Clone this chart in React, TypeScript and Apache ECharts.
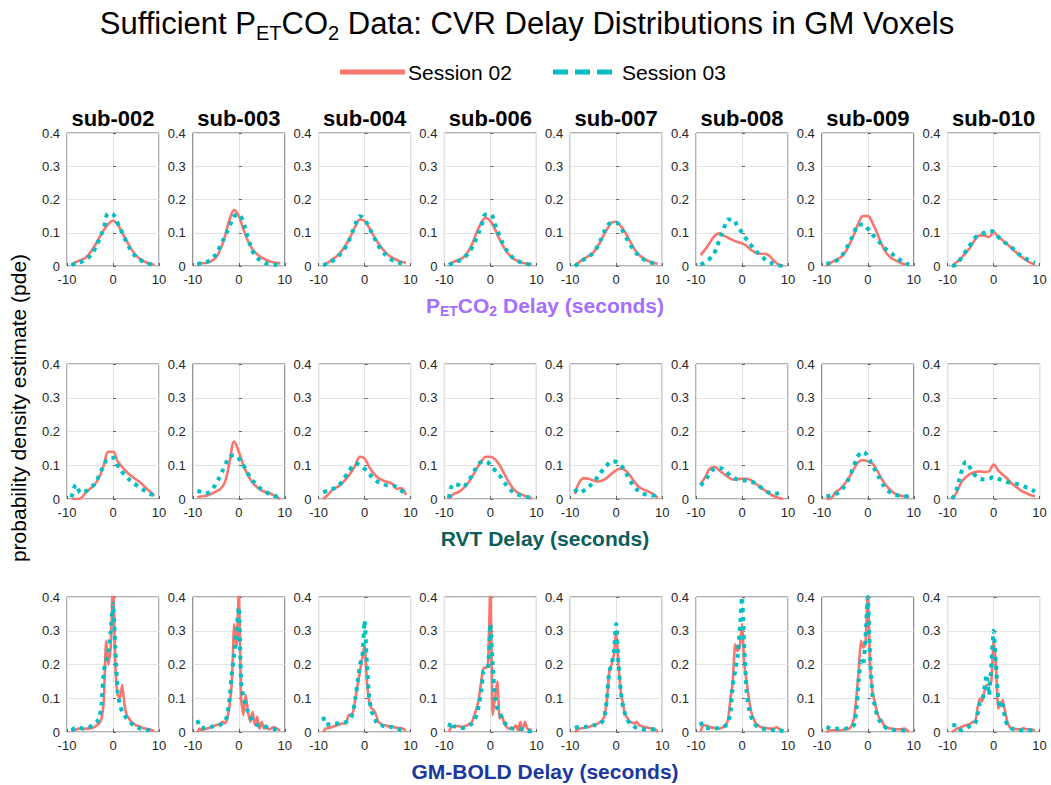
import React, { useEffect, useRef } from 'react';
import * as echarts from 'echarts';

const SUBJECTS = ['sub-002', 'sub-003', 'sub-004', 'sub-006', 'sub-007', 'sub-008', 'sub-009', 'sub-010'];

// delay grid (seconds) for PETCO2 and RVT rows
const X_SMOOTH = [-9, -8, -7, -6, -5, -4, -3, -2, -1, 0, 1, 2, 3, 4, 5, 6, 7, 8, 9];
// finer delay grid for GM-BOLD row
const X_BOLD = [-9, -8.5, -8, -7.5, -7, -6.5, -6, -5.5, -5, -4.5, -4, -3.5, -3, -2.5, -2, -1.5, -1, -0.5, 0,
  0.5, 1, 1.5, 2, 2.5, 3, 3.5, 4, 4.5, 5, 5.5, 6, 6.5, 7, 7.5, 8, 8.5, 9];

const X_MIN = -10, X_MAX = 10, X_STEP = 10;
const Y_MIN = 0, Y_MAX = 0.4, Y_STEP = 0.1;

// PETCO2 row
const petco2Session02 = [
  [0.003, 0.012, 0.018, 0.025, 0.04, 0.06, 0.085, 0.108, 0.127, 0.136, 0.125, 0.1, 0.075, 0.05, 0.032, 0.02, 0.012, 0.007, 0.004],
  [0.002, 0.008, 0.01, 0.015, 0.025, 0.05, 0.09, 0.14, 0.168, 0.15, 0.11, 0.075, 0.05, 0.035, 0.025, 0.018, 0.013, 0.01, 0.008],
  [0.003, 0.01, 0.02, 0.03, 0.045, 0.065, 0.09, 0.12, 0.14, 0.135, 0.115, 0.09, 0.068, 0.05, 0.035, 0.025, 0.018, 0.013, 0.01],
  [0.005, 0.012, 0.018, 0.025, 0.04, 0.065, 0.1, 0.13, 0.145, 0.135, 0.11, 0.08, 0.055, 0.035, 0.022, 0.015, 0.01, 0.007, 0.005],
  [0.0, 0.012, 0.022, 0.03, 0.04, 0.06, 0.085, 0.11, 0.13, 0.133, 0.12, 0.1, 0.075, 0.05, 0.033, 0.022, 0.015, 0.01, 0.007],
  [0.033, 0.05, 0.07, 0.09, 0.098, 0.092, 0.085, 0.078, 0.072, 0.068, 0.06, 0.048, 0.04, 0.037, 0.037, 0.03, 0.015, 0.004, 0.0],
  [0.0, 0.01, 0.018, 0.025, 0.04, 0.065, 0.095, 0.13, 0.15, 0.15, 0.13, 0.1, 0.065, 0.04, 0.025, 0.017, 0.01, 0.006, 0.004],
  [0.0, 0.012, 0.025, 0.04, 0.057, 0.08, 0.092, 0.092, 0.087, 0.102, 0.088, 0.077, 0.065, 0.052, 0.04, 0.028, 0.018, 0.01, 0.004],
];
const petco2Session03 = [
  [0.002, 0.01, 0.012, 0.018, 0.03, 0.05, 0.08, 0.115, 0.158, 0.155, 0.13, 0.1, 0.07, 0.045, 0.028, 0.018, 0.01, 0.006, 0.003],
  [0.005, 0.01, 0.012, 0.02, 0.035, 0.06, 0.09, 0.12, 0.15, 0.155, 0.13, 0.085, 0.045, 0.025, 0.015, 0.008, 0.006, 0.004, 0.003],
  [0.002, 0.008, 0.015, 0.025, 0.04, 0.06, 0.09, 0.125, 0.15, 0.14, 0.115, 0.088, 0.062, 0.042, 0.028, 0.018, 0.012, 0.008, 0.005],
  [0.003, 0.01, 0.015, 0.022, 0.035, 0.055, 0.085, 0.12, 0.155, 0.155, 0.125, 0.09, 0.06, 0.038, 0.024, 0.015, 0.009, 0.006, 0.004],
  [0.0, 0.01, 0.02, 0.028, 0.04, 0.06, 0.09, 0.12, 0.13, 0.13, 0.115, 0.09, 0.065, 0.045, 0.03, 0.02, 0.013, 0.009, 0.006],
  [0.004, 0.012, 0.022, 0.04, 0.075, 0.11, 0.14, 0.14, 0.12, 0.1, 0.08, 0.062, 0.045, 0.033, 0.02, 0.012, 0.006, 0.002, 0.0],
  [0.006, 0.01, 0.015, 0.025, 0.045, 0.07, 0.1, 0.125, 0.125, 0.112, 0.095, 0.08, 0.065, 0.05, 0.04, 0.028, 0.018, 0.01, 0.005],
  [0.0, 0.005, 0.025, 0.045, 0.065, 0.085, 0.095, 0.1, 0.105, 0.103, 0.088, 0.075, 0.065, 0.055, 0.042, 0.03, 0.022, 0.015, 0.01],
];

// RVT row
const rvtSession02 = [
  [0.0, 0.0, 0.002, 0.018, 0.03, 0.042, 0.065, 0.1, 0.14, 0.14, 0.112, 0.095, 0.08, 0.068, 0.058, 0.048, 0.035, 0.022, 0.01],
  [0.005, 0.008, 0.01, 0.015, 0.022, 0.03, 0.05, 0.11, 0.17, 0.14, 0.1, 0.07, 0.048, 0.035, 0.025, 0.02, 0.015, 0.008, 0.0],
  [0.0, 0.012, 0.027, 0.035, 0.045, 0.06, 0.078, 0.1, 0.125, 0.12, 0.095, 0.075, 0.062, 0.055, 0.05, 0.045, 0.03, 0.032, 0.012],
  [0.0, 0.015, 0.02, 0.03, 0.045, 0.065, 0.09, 0.11, 0.125, 0.125, 0.118, 0.1, 0.075, 0.05, 0.03, 0.018, 0.012, 0.006, 0.002],
  [0.015, 0.05, 0.062, 0.06, 0.055, 0.052, 0.055, 0.063, 0.075, 0.085, 0.09, 0.085, 0.07, 0.05, 0.035, 0.028, 0.022, 0.015, 0.003],
  [0.045, 0.065, 0.09, 0.095, 0.085, 0.075, 0.065, 0.058, 0.058, 0.06, 0.06, 0.055, 0.045, 0.035, 0.025, 0.015, 0.008, 0.003, 0.0],
  [0.0, 0.002, 0.02, 0.03, 0.045, 0.065, 0.09, 0.11, 0.115, 0.112, 0.105, 0.085, 0.06, 0.04, 0.025, 0.015, 0.01, 0.008, 0.007],
  [0.0, 0.02, 0.05, 0.065, 0.075, 0.08, 0.082, 0.08, 0.082, 0.102, 0.085, 0.072, 0.06, 0.045, 0.035, 0.025, 0.018, 0.012, 0.008],
];
const rvtSession03 = [
  [0.005, 0.042, 0.018, 0.022, 0.032, 0.045, 0.07, 0.1, 0.12, 0.122, 0.1, 0.08, 0.065, 0.052, 0.042, 0.032, 0.024, 0.016, 0.01],
  [0.025, 0.02, 0.018, 0.025, 0.045, 0.07, 0.1, 0.125, 0.13, 0.12, 0.1, 0.075, 0.055, 0.04, 0.028, 0.02, 0.012, 0.008, 0.015],
  [0.02, 0.025, 0.03, 0.035, 0.05, 0.07, 0.09, 0.105, 0.1, 0.09, 0.075, 0.06, 0.05, 0.045, 0.04, 0.04, 0.035, 0.025, 0.015],
  [0.003, 0.045, 0.042, 0.035, 0.05, 0.07, 0.095, 0.11, 0.112, 0.1, 0.085, 0.07, 0.05, 0.032, 0.02, 0.013, 0.01, 0.006, 0.004],
  [0.03, 0.018, 0.025, 0.035, 0.05, 0.065, 0.085, 0.1, 0.112, 0.11, 0.1, 0.08, 0.055, 0.035, 0.022, 0.015, 0.012, 0.01, 0.02],
  [0.04, 0.055, 0.075, 0.09, 0.092, 0.088, 0.075, 0.065, 0.058, 0.055, 0.055, 0.052, 0.045, 0.035, 0.025, 0.018, 0.015, 0.018, 0.022],
  [0.008, 0.01, 0.015, 0.022, 0.04, 0.065, 0.1, 0.13, 0.14, 0.125, 0.1, 0.075, 0.05, 0.03, 0.018, 0.012, 0.01, 0.008, 0.008],
  [0.0, 0.03, 0.08, 0.11, 0.09, 0.07, 0.06, 0.058, 0.06, 0.065, 0.06, 0.055, 0.05, 0.048, 0.045, 0.04, 0.035, 0.03, 0.022],
];

// GM-BOLD row
const boldSession02 = [
  [0.002, 0.006, 0.008, 0.01, 0.01, 0.009, 0.01, 0.01, 0.011, 0.012, 0.015, 0.02, 0.025, 0.04, 0.09, 0.27, 0.2, 0.25, 0.45, 0.2, 0.11, 0.1, 0.14, 0.08, 0.05, 0.04, 0.03, 0.025, 0.02, 0.018, 0.015, 0.012, 0.01, 0.009, 0.008, 0.005, 0.003],
  [0.0, 0.01, 0.005, 0.008, 0.01, 0.012, 0.015, 0.018, 0.02, 0.022, 0.025, 0.03, 0.025, 0.04, 0.08, 0.15, 0.32, 0.25, 0.42, 0.1, 0.05, 0.11, 0.06, 0.03, 0.06, 0.02, 0.045, 0.01, 0.03, 0.01, 0.015, 0.008, 0.01, 0.015, 0.012, 0.008, 0.005],
  [0.0, 0.01, 0.012, 0.013, 0.015, 0.018, 0.02, 0.022, 0.025, 0.025, 0.025, 0.05, 0.05, 0.06, 0.1, 0.14, 0.18, 0.22, 0.26, 0.15, 0.09, 0.07, 0.065, 0.05, 0.03, 0.025, 0.02, 0.02, 0.018, 0.016, 0.015, 0.014, 0.012, 0.012, 0.012, 0.008, 0.005],
  [0.0, 0.015, 0.015, 0.017, 0.018, 0.016, 0.015, 0.018, 0.02, 0.025, 0.03, 0.05, 0.07, 0.1, 0.15, 0.19, 0.19, 0.2, 0.45, 0.05, 0.1, 0.15, 0.04, 0.05, 0.025, 0.015, 0.01, 0.01, 0.01, 0.02, 0.005, 0.03, 0.005, 0.03, 0.01, 0.008, 0.005],
  [0.0, 0.005, 0.01, 0.011, 0.012, 0.014, 0.015, 0.018, 0.02, 0.022, 0.025, 0.03, 0.035, 0.05, 0.1, 0.18, 0.2, 0.23, 0.3, 0.2, 0.12, 0.08, 0.05, 0.04, 0.03, 0.028, 0.025, 0.03, 0.02, 0.018, 0.015, 0.014, 0.012, 0.011, 0.01, 0.008, 0.0],
  [0.0, 0.02, 0.02, 0.018, 0.015, 0.013, 0.012, 0.011, 0.01, 0.012, 0.015, 0.02, 0.04, 0.1, 0.15, 0.26, 0.24, 0.25, 0.32, 0.2, 0.15, 0.1, 0.06, 0.04, 0.025, 0.02, 0.015, 0.013, 0.012, 0.011, 0.01, 0.01, 0.01, 0.015, 0.01, 0.006, 0.003],
  [0.0, 0.003, 0.005, 0.005, 0.005, 0.005, 0.005, 0.006, 0.008, 0.009, 0.01, 0.02, 0.04, 0.1, 0.18, 0.27, 0.25, 0.26, 0.42, 0.2, 0.12, 0.09, 0.06, 0.04, 0.035, 0.02, 0.015, 0.012, 0.01, 0.009, 0.008, 0.008, 0.008, 0.009, 0.01, 0.005, 0.002],
  [0.0, 0.005, 0.01, 0.012, 0.015, 0.018, 0.02, 0.022, 0.025, 0.03, 0.03, 0.07, 0.1, 0.09, 0.12, 0.14, 0.14, 0.15, 0.27, 0.2, 0.07, 0.08, 0.095, 0.06, 0.03, 0.015, 0.01, 0.009, 0.008, 0.008, 0.008, 0.012, 0.008, 0.008, 0.008, 0.006, 0.005],
];
const boldSession03 = [
  [0.005, 0.01, 0.012, 0.013, 0.012, 0.01, 0.01, 0.012, 0.015, 0.02, 0.025, 0.03, 0.04, 0.08, 0.18, 0.21, 0.24, 0.3, 0.38, 0.25, 0.12, 0.08, 0.06, 0.05, 0.04, 0.032, 0.025, 0.02, 0.015, 0.012, 0.01, 0.009, 0.008, 0.006, 0.005, 0.004, 0.003],
  [0.035, 0.015, 0.012, 0.013, 0.015, 0.015, 0.015, 0.018, 0.02, 0.02, 0.022, 0.025, 0.03, 0.05, 0.1, 0.175, 0.23, 0.3, 0.37, 0.15, 0.1, 0.08, 0.06, 0.045, 0.035, 0.028, 0.02, 0.02, 0.02, 0.018, 0.015, 0.012, 0.01, 0.009, 0.008, 0.006, 0.005],
  [0.045, 0.022, 0.022, 0.024, 0.025, 0.025, 0.025, 0.025, 0.025, 0.028, 0.03, 0.035, 0.04, 0.06, 0.1, 0.15, 0.2, 0.22, 0.33, 0.2, 0.1, 0.06, 0.05, 0.03, 0.02, 0.02, 0.018, 0.016, 0.015, 0.015, 0.015, 0.012, 0.01, 0.008, 0.005, 0.004, 0.003],
  [0.015, 0.03, 0.018, 0.016, 0.015, 0.013, 0.012, 0.013, 0.015, 0.02, 0.025, 0.035, 0.05, 0.08, 0.12, 0.18, 0.185, 0.19, 0.32, 0.2, 0.1, 0.07, 0.06, 0.04, 0.03, 0.02, 0.012, 0.011, 0.01, 0.01, 0.01, 0.009, 0.008, 0.005, 0.003, 0.002, 0.002],
  [0.012, 0.014, 0.015, 0.015, 0.015, 0.016, 0.018, 0.019, 0.02, 0.02, 0.02, 0.025, 0.03, 0.05, 0.1, 0.18, 0.2, 0.24, 0.32, 0.2, 0.12, 0.075, 0.05, 0.035, 0.025, 0.02, 0.015, 0.012, 0.01, 0.009, 0.008, 0.008, 0.008, 0.008, 0.008, 0.009, 0.01],
  [0.03, 0.015, 0.012, 0.012, 0.012, 0.011, 0.01, 0.011, 0.012, 0.013, 0.015, 0.02, 0.025, 0.06, 0.14, 0.18, 0.22, 0.3, 0.4, 0.25, 0.12, 0.07, 0.045, 0.03, 0.02, 0.015, 0.012, 0.01, 0.008, 0.007, 0.006, 0.006, 0.005, 0.005, 0.005, 0.004, 0.003],
  [0.015, 0.012, 0.01, 0.01, 0.01, 0.01, 0.01, 0.01, 0.01, 0.011, 0.012, 0.015, 0.02, 0.06, 0.15, 0.21, 0.2, 0.28, 0.4, 0.22, 0.11, 0.08, 0.05, 0.035, 0.025, 0.018, 0.012, 0.01, 0.008, 0.007, 0.006, 0.006, 0.005, 0.005, 0.005, 0.008, 0.01],
  [0.02, 0.02, 0.02, 0.01, 0.005, 0.008, 0.012, 0.015, 0.02, 0.022, 0.025, 0.05, 0.085, 0.09, 0.13, 0.17, 0.11, 0.2, 0.3, 0.2, 0.1, 0.07, 0.08, 0.04, 0.02, 0.015, 0.01, 0.009, 0.008, 0.007, 0.005, 0.005, 0.005, 0.005, 0.005, 0.005, 0.005],
];

const RED = '#F8766D';
const TEAL = '#00BFC4';
const FONT = '"Liberation Sans", Arial, Helvetica, sans-serif';

const ROWS = [
  { x: X_SMOOTH, s02: petco2Session02, s03: petco2Session03, smooth: 0.4, top: 133, height: 133 },
  { x: X_SMOOTH, s02: rvtSession02, s03: rvtSession03, smooth: 0.4, top: 364, height: 135 },
  { x: X_BOLD, s02: boldSession02, s03: boldSession03, smooth: 0.15, top: 597, height: 135 },
];
const COL_LEFT0 = 67;
const COL_PITCH = 125.8;
const COL_W = 92;

function buildOption() {
  const grid: any[] = [];
  const xAxis: any[] = [];
  const yAxis: any[] = [];
  const series: any[] = [];
  const graphic: any[] = [];

  ROWS.forEach((row, r) => {
    SUBJECTS.forEach((sub, c) => {
      const k = r * SUBJECTS.length + c;
      const left = COL_LEFT0 + c * COL_PITCH;
      grid.push({
        left, top: row.top, width: COL_W, height: row.height,
        show: true, borderColor: '#626262', borderWidth: 1, backgroundColor: '#ffffff',
      });
      xAxis.push({
        gridIndex: k, type: 'value', min: X_MIN, max: X_MAX, interval: X_STEP,
        axisLine: { show: false },
        axisTick: { show: true, inside: true, length: 3, lineStyle: { color: '#626262' } },
        axisLabel: { fontSize: 13, color: '#262626', margin: 7, fontFamily: FONT, showMinLabel: true, showMaxLabel: true },
        splitLine: { show: true, lineStyle: { color: '#e3e3e3', width: 1 } },
      });
      yAxis.push({
        gridIndex: k, type: 'value', min: Y_MIN, max: Y_MAX, interval: Y_STEP,
        axisLine: { show: false },
        axisTick: { show: true, inside: true, length: 3, lineStyle: { color: '#626262' } },
        axisLabel: {
          fontSize: 13, color: '#262626', margin: 7, fontFamily: FONT,
          formatter: (v: number) => (v === 0 ? '0' : v.toFixed(1)),
        },
        splitLine: { show: true, lineStyle: { color: '#e3e3e3', width: 1 } },
      });
      series.push({
        name: 'Session 02', type: 'line', xAxisIndex: k, yAxisIndex: k,
        data: row.x.map((xv, i) => [xv, row.s02[c][i]]),
        showSymbol: false, symbol: 'none', smooth: row.smooth, clip: true,
        lineStyle: { color: RED, width: 2.6 }, z: 2,
      });
      series.push({
        name: 'Session 03', type: 'line', xAxisIndex: k, yAxisIndex: k,
        data: row.x.map((xv, i) => [xv, row.s03[c][i]]),
        showSymbol: false, symbol: 'none', smooth: row.smooth, clip: true,
        lineStyle: { color: TEAL, width: 4, type: [4, 5], cap: 'butt' }, z: 3,
      });
      if (r === 0) {
        graphic.push({
          type: 'text', x: left + COL_W / 2, y: 118,
          style: { text: sub, fontSize: 22, fontWeight: 'bold', fontFamily: FONT, fill: '#000', align: 'center', verticalAlign: 'middle' },
        });
      }
    });
  });

  // main title
  graphic.push({
    type: 'text', x: 527, y: 23,
    style: {
      text: '{a|Sufficient P}{s|ET}{a|CO}{s|2}{a| Data: CVR Delay Distributions in GM Voxels}',
      align: 'center', verticalAlign: 'middle', fill: '#000',
      rich: {
        a: { fontSize: 31, fontFamily: FONT, lineHeight: 40, fill: '#000' },
        s: { fontSize: 20, fontFamily: FONT, lineHeight: 20, verticalAlign: 'bottom', fill: '#000' },
      },
    },
  });

  // legend
  graphic.push({ type: 'line', shape: { x1: 340, y1: 72, x2: 405, y2: 72 }, style: { stroke: RED, lineWidth: 5 } });
  graphic.push({
    type: 'text', x: 408, y: 72,
    style: { text: 'Session 02', fontSize: 21, fontFamily: FONT, fill: '#000', align: 'left', verticalAlign: 'middle' },
  });
  graphic.push({ type: 'line', shape: { x1: 553, y1: 72, x2: 612, y2: 72 }, style: { stroke: TEAL, lineWidth: 5, lineDash: [15, 7] } });
  graphic.push({
    type: 'text', x: 622, y: 72,
    style: { text: 'Session 03', fontSize: 21, fontFamily: FONT, fill: '#000', align: 'left', verticalAlign: 'middle' },
  });

  // row x-labels
  graphic.push({
    type: 'text', x: 545, y: 305,
    style: {
      text: '{a|P}{s|ET}{a|CO}{s|2}{a| Delay (seconds)}',
      align: 'center', verticalAlign: 'middle',
      rich: {
        a: { fontSize: 21, fontWeight: 'bold', fontFamily: FONT, lineHeight: 26, fill: '#A66EFF' },
        s: { fontSize: 14, fontWeight: 'bold', fontFamily: FONT, lineHeight: 14, verticalAlign: 'bottom', fill: '#A66EFF' },
      },
    },
  });
  graphic.push({
    type: 'text', x: 545, y: 538,
    style: { text: 'RVT Delay (seconds)', fontSize: 21, fontWeight: 'bold', fontFamily: FONT, fill: '#0B5E5A', align: 'center', verticalAlign: 'middle' },
  });
  graphic.push({
    type: 'text', x: 545, y: 771,
    style: { text: 'GM-BOLD Delay (seconds)', fontSize: 21, fontWeight: 'bold', fontFamily: FONT, fill: '#1A38A0', align: 'center', verticalAlign: 'middle' },
  });

  // y-axis label
  graphic.push({
    type: 'text', x: 18, y: 408, rotation: Math.PI / 2,
    style: { text: 'probability density estimate (pde)', fontSize: 21, fontFamily: FONT, fill: '#000', align: 'center', verticalAlign: 'middle' },
  });

  return { animation: false, backgroundColor: '#ffffff', grid, xAxis, yAxis, series, graphic };
}

export default function App() {
  const ref = useRef<HTMLDivElement>(null);
  useEffect(() => {
    if (!ref.current) return;
    const chart = echarts.init(ref.current, undefined, { renderer: 'svg' });
    chart.setOption(buildOption() as any);
    return () => chart.dispose();
  }, []);
  return <div ref={ref} style={{ position: 'fixed', left: 0, top: 0, width: 1051, height: 785 }} />;
}
